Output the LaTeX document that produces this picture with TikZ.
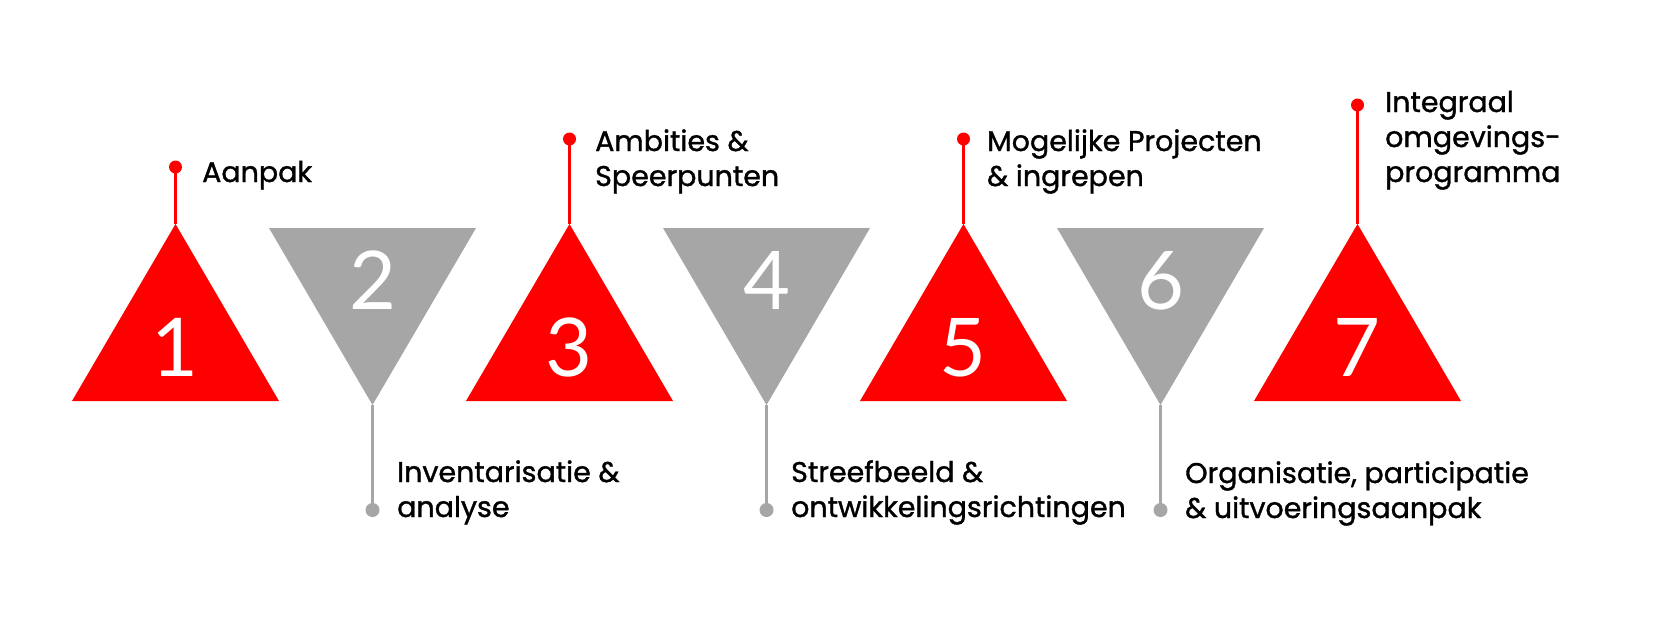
\documentclass[tikz,border=0pt]{standalone}
\usepackage{fontspec}
\setmainfont{Poppins}[FakeBold=1.2]
\newfontfamily\numfont{Lato}
\definecolor{stepred}{HTML}{FF0000}
\definecolor{stepgray}{HTML}{A6A6A6}
\tikzset{
  redtri/.style={fill=stepred, draw=none},
  graytri/.style={fill=stepgray, draw=none},
  reddot/.style={circle, fill=stepred, inner sep=0pt, minimum size=13pt},
  graydot/.style={circle, fill=stepgray, inner sep=0pt, minimum size=14pt},
  redstem/.style={draw=stepred, line width=3pt},
  graystem/.style={draw=stepgray, line width=3.2pt},
  numlabel/.style={text=white, inner sep=0pt, anchor=base, font=\numfont\fontsize{81}{81}\selectfont},
  steptext/.style={anchor=base west, inner sep=0pt, text=black, font=\fontsize{28.5}{35}\selectfont}
}
\begin{document}
\begin{tikzpicture}[x=1pt,y=-1pt]
\useasboundingbox (0,0) rectangle (1672,635);
% red triangles (up)
\foreach \k/\n in {0/1,2/3,4/5,6/7}{
  \pgfmathsetmacro{\cx}{175.5+197*\k}
  \fill[redtri] (\cx-103.5,401) -- (\cx,224) -- (\cx+103.5,401) -- cycle;
  \coordinate (apex\n) at (\cx,224);
  \node[numlabel] (num\n) at (\cx-1,376) {\n};
}
% gray triangles (down)
\foreach \k/\n in {1/2,3/4,5/6}{
  \pgfmathsetmacro{\cx}{175.5+197*\k}
  \fill[graytri] (\cx-103.5,228) -- (\cx+103.5,228) -- (\cx,405) -- cycle;
  \coordinate (apex\n) at (\cx,405);
  \node[numlabel] (num\n) at (\cx,309) {\n};
}
% dots
\node[reddot] (dot1) at (175.5,167) {};
\node[reddot] (dot3) at (569.5,139) {};
\node[reddot] (dot5) at (963.5,139) {};
\node[reddot] (dot7) at (1357.5,105) {};
\node[graydot] (dot2) at (372.5,510) {};
\node[graydot] (dot4) at (766.5,510) {};
\node[graydot] (dot6) at (1160.5,510) {};
% stems
\foreach \n in {1,3,5,7}{\draw[redstem] (apex\n) -- (dot\n.center);}
\foreach \n in {2,4,6}{\draw[graystem] (apex\n) -- (dot\n.center);}
% texts
\node[steptext] (t1) at (202,182) {Aanpak};
\node[steptext] (t3) at (595,151) {\vtop{\hbox{Ambities \&}\hbox{Speerpunten}}};
\node[steptext] (t5) at (987,151) {\vtop{\hbox{Mogelijke Projecten}\hbox{\& ingrepen}}};
\node[steptext] (t7) at (1385,112) {\vtop{\hbox{Integraal}\hbox{omgevings-}\hbox{programma}}};
\node[steptext] (t2) at (397,482) {\vtop{\hbox{Inventarisatie \&}\hbox{analyse}}};
\node[steptext] (t4) at (791,482) {\vtop{\hbox{Streefbeeld \&}\hbox{ontwikkelingsrichtingen}}};
\node[steptext] (t6) at (1185,483) {\vtop{\hbox{Organisatie, participatie}\hbox{\& uitvoeringsaanpak}}};
\end{tikzpicture}
\end{document}
